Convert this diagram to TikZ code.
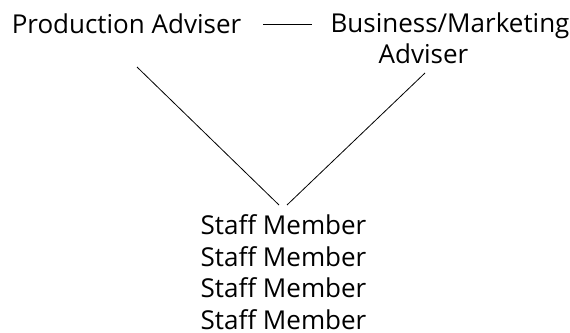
\documentclass[tikz,border=0pt]{standalone}
\usepackage{fontspec}
\setmainfont{Open Sans}
\usepackage{tikz}
\usetikzlibrary{positioning}

\begin{document}
\begin{tikzpicture}[x=1pt,y=-1pt]
	\tikzstyle{role} = [font=\fontsize{26}{31.5}\selectfont, inner sep=0pt, align=center]
	\tikzstyle{link} = [line width=0.8pt]
	\useasboundingbox (0,0) rectangle (570,332);
	\node (production) [role, anchor=base] at (126.5,33) {Production Adviser};
	\node (business) [role, anchor=base] at (450,32) {Business/Marketing};
	\node (businessSub) [role, anchor=base] at (423.5,63) {Adviser};
	\node (staff) [role, anchor=north] at (283.5,214.5) {Staff Member\\Staff Member\\Staff Member\\Staff Member};
	\coordinate (prodRight) at (263,24);
	\coordinate (busLeft) at (312,24);
	\coordinate (prodFoot) at (137,67);
	\coordinate (busFoot) at (425,73);
	\coordinate (staffLeft) at (279,205);
	\coordinate (staffRight) at (287,205);
	\draw [link] (prodRight) -- (busLeft);
	\draw [link] (prodFoot) -- (staffLeft);
	\draw [link] (busFoot) -- (staffRight);
\end{tikzpicture}
\end{document}
